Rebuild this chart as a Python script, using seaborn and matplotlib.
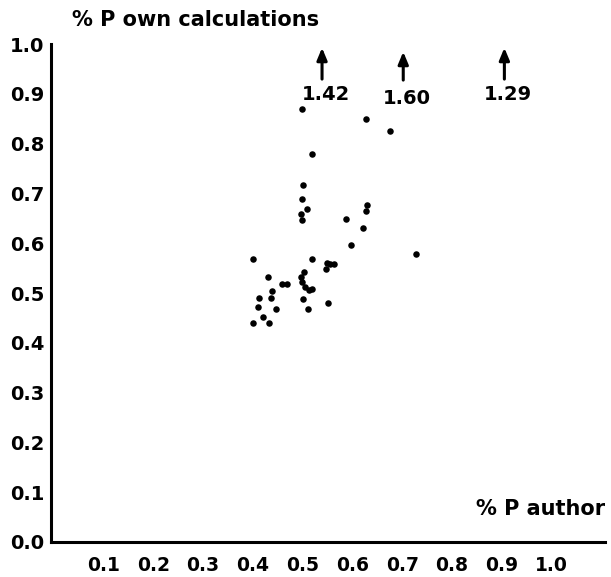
import matplotlib
matplotlib.use("Agg")
import matplotlib.pyplot as plt
import pandas as pd
import seaborn as sns

# points: % P author vs % P own calculations
p_author = [0.498, 0.627, 0.676, 0.519, 0.500, 0.498, 0.508, 0.497, 0.498,
            0.629, 0.628, 0.587, 0.621, 0.598, 0.727, 0.401, 0.518,
            0.549, 0.555, 0.563, 0.547, 0.430, 0.458, 0.468,
            0.502, 0.496, 0.498, 0.505, 0.512, 0.518,
            0.439, 0.437, 0.413, 0.411, 0.447, 0.500, 0.510, 0.550,
            0.421, 0.400, 0.433]
p_own = [0.869, 0.849, 0.826, 0.780, 0.716, 0.689, 0.669, 0.658, 0.647,
         0.677, 0.665, 0.649, 0.630, 0.597, 0.579, 0.568, 0.569,
         0.560, 0.558, 0.559, 0.548, 0.533, 0.519, 0.519,
         0.542, 0.533, 0.523, 0.513, 0.507, 0.509,
         0.504, 0.489, 0.490, 0.471, 0.467, 0.487, 0.467, 0.479,
         0.452, 0.439, 0.440]

# off-scale values shown as arrows at the top
off_x = [0.539, 0.702, 0.905]
off_labels = ["1.42", "1.60", "1.29"]

x_ticks = [0.1, 0.2, 0.3, 0.4, 0.5, 0.6, 0.7, 0.8, 0.9, 1.0]
y_ticks = [0.0, 0.1, 0.2, 0.3, 0.4, 0.5, 0.6, 0.7, 0.8, 0.9, 1.0]

sns.set_style("white")
plt.rcParams["font.family"] = ["DejaVu Sans"]
plt.rcParams["font.weight"] = "bold"
# scanned figure is pure black ink, not seaborn's dark grey
plt.rcParams["text.color"] = "black"
plt.rcParams["xtick.color"] = "black"
plt.rcParams["ytick.color"] = "black"
plt.rcParams["axes.labelcolor"] = "black"

df = pd.DataFrame({"author": p_author, "own": p_own})

fig = plt.figure(figsize=(6.11, 5.77), dpi=100)
ax = fig.add_axes([0.0835, 0.0607, 0.9067, 0.863])
sns.scatterplot(data=df, x="author", y="own", ax=ax, color="black",
                s=22, edgecolor="black", linewidth=0)

ax.set_xlim(-0.005, 1.107)
ax.set_ylim(0, 1.0)
ax.set_xticks(x_ticks)
ax.set_yticks(y_ticks)
ax.set_xticklabels([f"{v:.1f}" for v in x_ticks], fontsize=13.5, fontweight="bold")
ax.set_yticklabels([f"{v:.1f}" for v in y_ticks], fontsize=14, fontweight="bold")
ax.tick_params(axis="x", direction="in", length=3, width=1.5, pad=10, colors="black")
ax.tick_params(axis="y", direction="in", length=3, width=1.5, pad=5, colors="black")
ax.set_xlabel("")
ax.set_ylabel("")

for side in ["top", "right"]:
    ax.spines[side].set_visible(False)
for side in ["left", "bottom"]:
    ax.spines[side].set_linewidth(2.2)
    ax.spines[side].set_color("black")

# arrows for the points off the top of the scale
for xv, lab in zip(off_x, off_labels):
    top = 0.99 if lab == "1.60" else 0.998
    base = 0.922 if lab == "1.60" else 0.924
    ax.annotate("", xy=(xv, top), xytext=(xv, base),
                arrowprops=dict(arrowstyle="-|>,head_length=0.6,head_width=0.25",
                                color="black", lw=2.2, mutation_scale=12),
                annotation_clip=False)
    ly = 0.89 if lab == "1.60" else 0.898
    ax.text(xv + 0.007, ly, lab, ha="center", va="center",
            fontsize=14, fontweight="bold")

ax.text(0.037, 1.048, "% P own calculations", ha="left", va="center",
        fontsize=15, fontweight="bold", clip_on=False)
ax.text(1.107, 0.066, "% P author", ha="right", va="center",
        fontsize=15, fontweight="bold")

fig.savefig("out.png", dpi=100)
